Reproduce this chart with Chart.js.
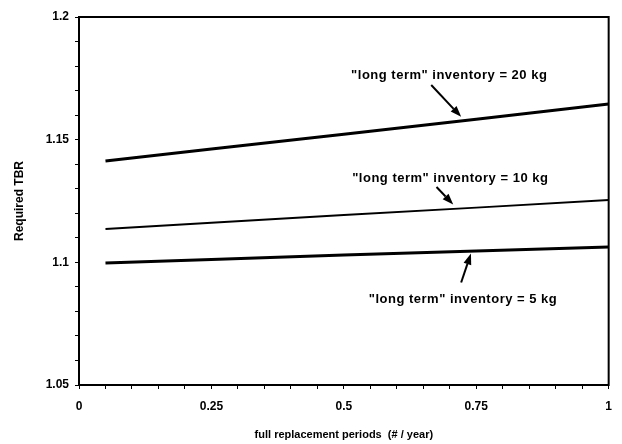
<!DOCTYPE html>
<html>
<head>
<meta charset="utf-8">
<script src="https://cdn.jsdelivr.net/npm/chart.js@4"></script>
<style>
  html, body { margin: 0; padding: 0; background: #fff; }
  #wrap { width: 622px; height: 444px; }
</style>
</head>
<body>
<div id="wrap"><canvas id="chart" width="622" height="444"></canvas></div>
<script>
// Data
const periods = [0.05, 0.25, 0.5, 0.75, 1];
const tbr20kg = [1.1413, 1.1462, 1.1522, 1.1583, 1.1645];
const tbr10kg = [1.1136, 1.1161, 1.1193, 1.1223, 1.1254];
const tbr5kg = [1.0997, 1.1012, 1.1030, 1.1046, 1.1062];

const seriesNames = ['"long term" inventory = 20 kg', '"long term" inventory = 10 kg', '"long term" inventory = 5 kg'];
const xTickLabels = ["0", "0.25", "0.5", "0.75", "1"];
const yTickLabels = ["1.05", "1.1", "1.15", "1.2"];

const FONT = "'Liberation Sans', Arial, sans-serif";

function toPoints(ys) {
    return periods.map((p, i) => ({x: p, y: ys[i]}));
}

// Labels with arrows pointing at the curves (in data units)
const callouts = [
    {text: seriesNames[0], at: [0.699, 1.1760], tail: [0.665, 1.1723], head: [0.7215, 1.1593]},
    {text: seriesNames[1], at: [0.701, 1.1344], tail: [0.675, 1.1307], head: [0.7065, 1.1236]},
    {text: seriesNames[2], at: [0.725, 1.0850], tail: [0.7215, 1.0918], head: [0.740, 1.1036]},
];

const framePlugin = {
    id: "frame",
    afterDatasetsDraw(chart) {
        let ctx = chart.ctx;
        let a = chart.chartArea;
        let xs = chart.scales.x, ys = chart.scales.y;
        ctx.save();
        ctx.strokeStyle = "#000";
        ctx.lineWidth = 2;
        ctx.strokeRect(a.left, a.top, a.right - a.left, a.bottom - a.top);

        ctx.fillStyle = "#000";
        ctx.font = "bold 13px " + FONT;
        ctx.letterSpacing = "0.5px";
        ctx.textAlign = "center";
        ctx.textBaseline = "middle";
        for (let c of callouts) {
            ctx.fillText(c.text, xs.getPixelForValue(c.at[0]), ys.getPixelForValue(c.at[1]));

            let tx = xs.getPixelForValue(c.tail[0]), ty = ys.getPixelForValue(c.tail[1]);
            let hx = xs.getPixelForValue(c.head[0]), hy = ys.getPixelForValue(c.head[1]);
            let ang = Math.atan2(hy - ty, hx - tx);
            let len = 11, half = 4;
            let bx = hx - len * Math.cos(ang), by = hy - len * Math.sin(ang);
            ctx.lineWidth = 2;
            ctx.beginPath();
            ctx.moveTo(tx, ty);
            ctx.lineTo(bx, by);
            ctx.stroke();
            ctx.beginPath();
            ctx.moveTo(hx, hy);
            ctx.lineTo(bx + half * Math.sin(ang), by - half * Math.cos(ang));
            ctx.lineTo(bx - half * Math.sin(ang), by + half * Math.cos(ang));
            ctx.closePath();
            ctx.fill();
        }
        ctx.restore();
    }
};

function lineSet(label, ys, width) {
    return {
        label: label,
        data: toPoints(ys),
        borderColor: "#000",
        borderWidth: width,
        pointRadius: 0,
        tension: 0,
        fill: false,
    };
}

new Chart(document.getElementById("chart").getContext("2d"), {
    type: "line",
    data: {
        datasets: [
            lineSet(seriesNames[0], tbr20kg, 3),
            lineSet(seriesNames[1], tbr10kg, 2),
            lineSet(seriesNames[2], tbr5kg, 3),
        ]
    },
    options: {
        responsive: false,
        animation: false,
        layout: {padding: {top: 17, right: 9, left: 0, bottom: 0}},
        plugins: {
            legend: {display: false},
            tooltip: {enabled: false},
        },
        scales: {
            x: {
                type: "linear",
                min: 0,
                max: 1,
                afterFit: s => { s.height = 59; },
                border: {display: true, color: "#000", width: 2},
                grid: {drawOnChartArea: false, color: "#000", tickLength: 4, tickWidth: 1},
                ticks: {
                    stepSize: 0.05,
                    autoSkip: false,
                    maxRotation: 0,
                    padding: 10,
                    color: "#000",
                    font: {family: FONT, size: 12, weight: "bold"},
                    callback: v => {
                        let k = Math.round(v * 100);
                        return k % 25 === 0 ? xTickLabels[k / 25] : "";
                    }
                },
                title: {
                    display: true,
                    text: "full replacement periods  (# / year)",
                    color: "#000",
                    font: {family: FONT, size: 11, weight: "bold"},
                    padding: {top: 0, bottom: 2},
                }
            },
            y: {
                type: "linear",
                min: 1.05,
                max: 1.2,
                afterFit: s => { s.width = 79; },
                border: {display: true, color: "#000", width: 2},
                grid: {drawOnChartArea: false, color: "#000", tickLength: 4, tickWidth: 1},
                ticks: {
                    stepSize: 0.01,
                    autoSkip: false,
                    padding: 6,
                    color: "#000",
                    font: {family: FONT, size: 12, weight: "bold"},
                    callback: v => {
                        let k = Math.round(v * 100) - 105;
                        return k % 5 === 0 ? yTickLabels[k / 5] : "";
                    }
                },
                title: {
                    display: true,
                    text: "Required TBR",
                    color: "#000",
                    font: {family: FONT, size: 12, weight: "bold"},
                    padding: {top: 12, bottom: 0},
                }
            }
        }
    },
    plugins: [framePlugin],
});
</script>
</body>
</html>
